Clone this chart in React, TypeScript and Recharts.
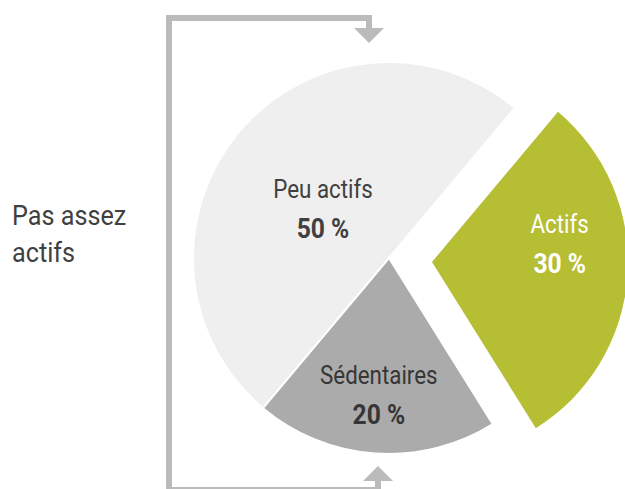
import React from "react";
import { PieChart, Pie, Cell } from "recharts";

// activity levels, share of population in %
const categories = ["Actifs", "Peu actifs", "Sédentaires"];
const shares = [30, 50, 20];
const sideLabel = ["Pas assez", "actifs"];

const data = categories.map((name, i) => ({ name, value: shares[i] }));

const fills: Record<string, string> = {
  Actifs: "#b6be34",
  "Peu actifs": "#efefef",
  Sédentaires: "#ababab",
};
const textColors: Record<string, string> = {
  Actifs: "#ffffff",
  "Peu actifs": "#404040",
  Sédentaires: "#363636",
};
// label placement tweaks (radius in px, angle shift in degrees)
const labelPos: Record<string, { r: number; shift: number }> = {
  Actifs: { r: 128, shift: 8 },
  "Peu actifs": { r: 77, shift: 9 },
  Sédentaires: { r: 146, shift: 0 },
};

const FONT = "Roboto, 'Noto Sans', sans-serif";
const RAD = Math.PI / 180;

const makeLabel = (only: (n: string) => boolean) => (props: any) => {
  const name = categories[props.index];
  if (!only(name)) return null;
  const pos = labelPos[name];
  const a = (props.midAngle + pos.shift) * RAD;
  const x = props.cx + pos.r * Math.cos(a);
  const y = props.cy - pos.r * Math.sin(a);
  const color = textColors[name];
  return (
    <g>
      <text
        transform={`translate(${x},${y - 20}) scale(0.86,1)`}
        textAnchor="middle"
        fill={color}
        fontFamily={FONT}
        fontSize={26}
      >
        {name}
      </text>
      <text
        transform={`translate(${x},${y + 20}) scale(0.88,1)`}
        textAnchor="middle"
        fill={color}
        fontFamily={FONT}
        fontSize={28}
        fontWeight={700}
      >
        {`${shares[props.index]} %`}
      </text>
    </g>
  );
};

export default function App() {
  const grey = "#bbbbbb";
  return (
    <div style={{ position: "absolute", left: 0, top: 0, width: 625, height: 489, background: "#fff", overflow: "hidden" }}>
      <svg width={625} height={489} style={{ position: "absolute", left: 0, top: 0 }}>
        <polyline points="369,30 369,18 169,18 169,490 378,490 378,480" fill="none" stroke={grey} strokeWidth={6} />
        <polygon points="354,28 384,28 369,43" fill={grey} />
        <polygon points="363,481 393,481 378,466" fill={grey} />
        {sideLabel.map((t, i) => (
          <text
            key={t}
            transform={`translate(12,${225 + i * 37}) scale(0.9,1)`}
            fontFamily={FONT}
            fontSize={28}
            fill="#404040"
          >
            {t}
          </text>
        ))}
      </svg>
      <div style={{ position: "absolute", left: 0, top: 0 }}>
        <PieChart width={625} height={489} margin={{ top: 0, right: 0, bottom: 0, left: 0 }}>
          <Pie
            data={data}
            dataKey="value"
            nameKey="name"
            cx={389}
            cy={258}
            outerRadius={196}
            startAngle={-58}
            endAngle={302}
            stroke="#ffffff"
            strokeWidth={2}
            isAnimationActive={false}
            labelLine={false}
            label={makeLabel((n) => n !== "Actifs")}
          >
            {data.map((d) => (
              <Cell key={d.name} fill={d.name === "Actifs" ? "none" : fills[d.name]} stroke={d.name === "Actifs" ? "none" : "#ffffff"} />
            ))}
          </Pie>
          <Pie
            data={data}
            dataKey="value"
            nameKey="name"
            cx={432}
            cy={262}
            outerRadius={196}
            startAngle={-58}
            endAngle={302}
            isAnimationActive={false}
            labelLine={false}
            label={makeLabel((n) => n === "Actifs")}
          >
            {data.map((d) => (
              <Cell key={d.name} fill={d.name === "Actifs" ? fills[d.name] : "none"} stroke="none" />
            ))}
          </Pie>
        </PieChart>
      </div>
    </div>
  );
}
